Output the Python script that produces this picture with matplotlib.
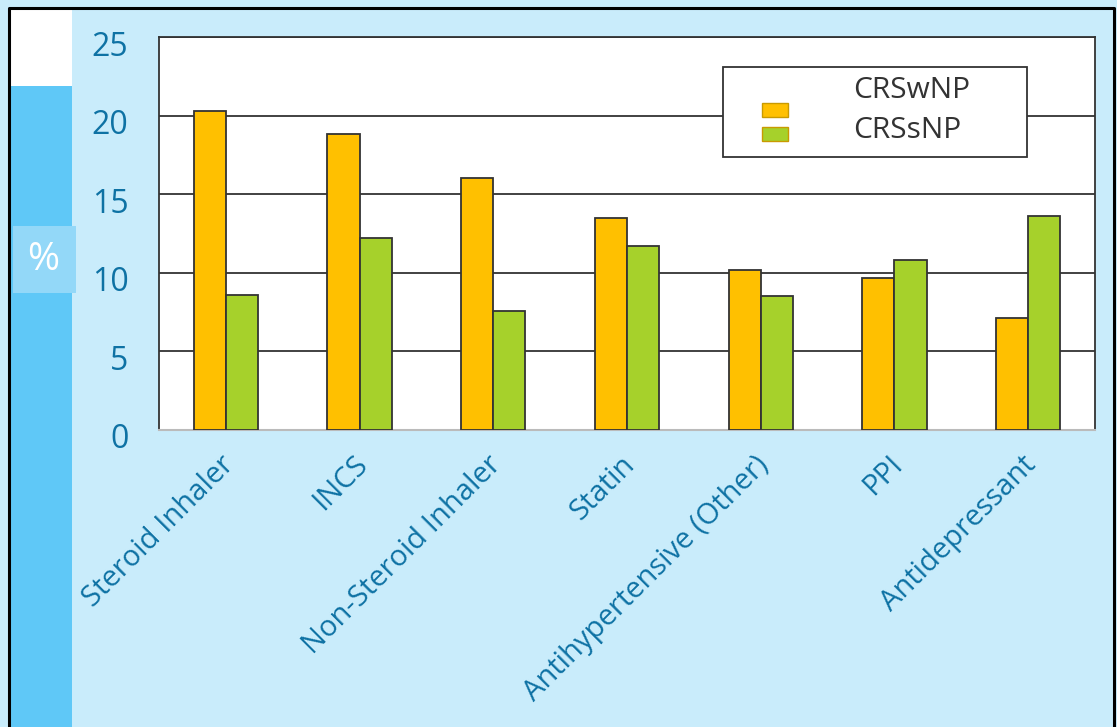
import matplotlib
matplotlib.use("Agg")
import matplotlib.pyplot as plt
import numpy as np
from matplotlib.patches import Rectangle
from matplotlib.transforms import ScaledTranslation

# 데이터
categories = ["Steroid Inhaler", "INCS", "Non-Steroid Inhaler", "Statin",
              "Antihypertensive (Other)", "PPI", "Antidepressant"]
crs_wnp = [20.3, 18.8, 16.0, 13.5, 10.2, 9.7, 7.1]
crs_snp = [8.6, 12.2, 7.6, 11.7, 8.5, 10.8, 13.6]
series_names = ["CRSwNP", "CRSsNP"]
y_ticks = [0, 5, 10, 15, 20, 25]

orange = "#FFC000"
green = "#A6D12B"
label_blue = "#0E72A4"
bg_blue = "#C9ECFB"

plt.rcParams['font.family'] = ['Open Sans', 'DejaVu Sans']

fig = plt.figure(figsize=(11.17, 7.27), dpi=100)
fig.patch.set_facecolor(bg_blue)

# 왼쪽 장식 (흰 박스, 파란 띠, % 박스)
fig.add_artist(Rectangle((10 / 1117, 0), 62 / 1117, 1 - 86 / 727,
                         transform=fig.transFigure, facecolor="#5FC8F7", edgecolor="none"))
fig.add_artist(Rectangle((10 / 1117, 1 - 86 / 727), 62 / 1117, 79 / 727,
                         transform=fig.transFigure, facecolor="white", edgecolor="none"))
fig.add_artist(Rectangle((13 / 1117, 1 - 293 / 727), 63 / 1117, 67 / 727,
                         transform=fig.transFigure, facecolor="#93D8F8", edgecolor="none"))
fig.text(43 / 1117, 1 - 260 / 727, "%", color="white", fontsize=28,
         ha="center", va="center")
# 바깥 테두리
fig.add_artist(plt.Line2D([9 / 1117, 9 / 1117, 1114 / 1117, 1114 / 1117],
                          [0, 1 - 8 / 727, 1 - 8 / 727, 0],
                          transform=fig.transFigure, color="black", lw=2.2))

ax = fig.add_axes([159 / 1117, 1 - 430 / 727, 936 / 1117, 393 / 727])
ax.set_facecolor("white")

x = np.arange(len(categories))
w = 0.24
ax.bar(x - w / 2, crs_wnp, w, color=orange, edgecolor="#333333", linewidth=1.3, zorder=3)
ax.bar(x + w / 2, crs_snp, w, color=green, edgecolor="#333333", linewidth=1.3, zorder=3)

ax.set_xlim(-0.5, len(categories) - 0.5)
ax.set_ylim(0, 25)
ax.set_yticks(y_ticks)
ax.yaxis.grid(True, color="#333333", linewidth=1.3, zorder=1)
ax.set_axisbelow(True)

for s in ["left", "top", "right"]:
    ax.spines[s].set_color("#333333")
    ax.spines[s].set_linewidth(1.3)
ax.spines["bottom"].set_color("#BBBBBB")
ax.spines["bottom"].set_linewidth(1.5)

ax.tick_params(axis="y", length=0, pad=22, labelsize=23, labelcolor=label_blue)
for lbl in ax.get_yticklabels():
    lbl.set_transform(lbl.get_transform() + ScaledTranslation(0, -6 / 100, fig.dpi_scale_trans))

ax.set_xticks(x)
ax.set_xticklabels(categories, rotation=45, ha="right", va="center",
                   rotation_mode="anchor", fontsize=21, color=label_blue)
ax.tick_params(axis="x", length=0, pad=22)
for lbl in ax.get_xticklabels():
    lbl.set_transform(lbl.get_transform() + ScaledTranslation(4 / 100, 0, fig.dpi_scale_trans))

# 범례 (수동)
lx0, ly0 = (723 - 159) / 936, (430 - 157) / 393
ax.add_patch(Rectangle((lx0, ly0), 304 / 936, 90 / 393, transform=ax.transAxes,
                       facecolor="white", edgecolor="#333333", linewidth=1.3, zorder=5))
for i, (name, col) in enumerate(zip(series_names, [orange, green])):
    py = (430 - 117 - i * 24) / 393
    ax.add_patch(Rectangle(((762 - 159) / 936, py), 26 / 936, 14 / 393,
                           transform=ax.transAxes, facecolor=col,
                           edgecolor="#C99A00", linewidth=1.0, zorder=6))
    ax.text((853 - 159) / 936, (430 - 90 - i * 41) / 393, name, transform=ax.transAxes,
            fontsize=21.5, color="#333333", va="center", ha="left", zorder=6)

fig.savefig("out.png", dpi=100, facecolor=fig.get_facecolor())
